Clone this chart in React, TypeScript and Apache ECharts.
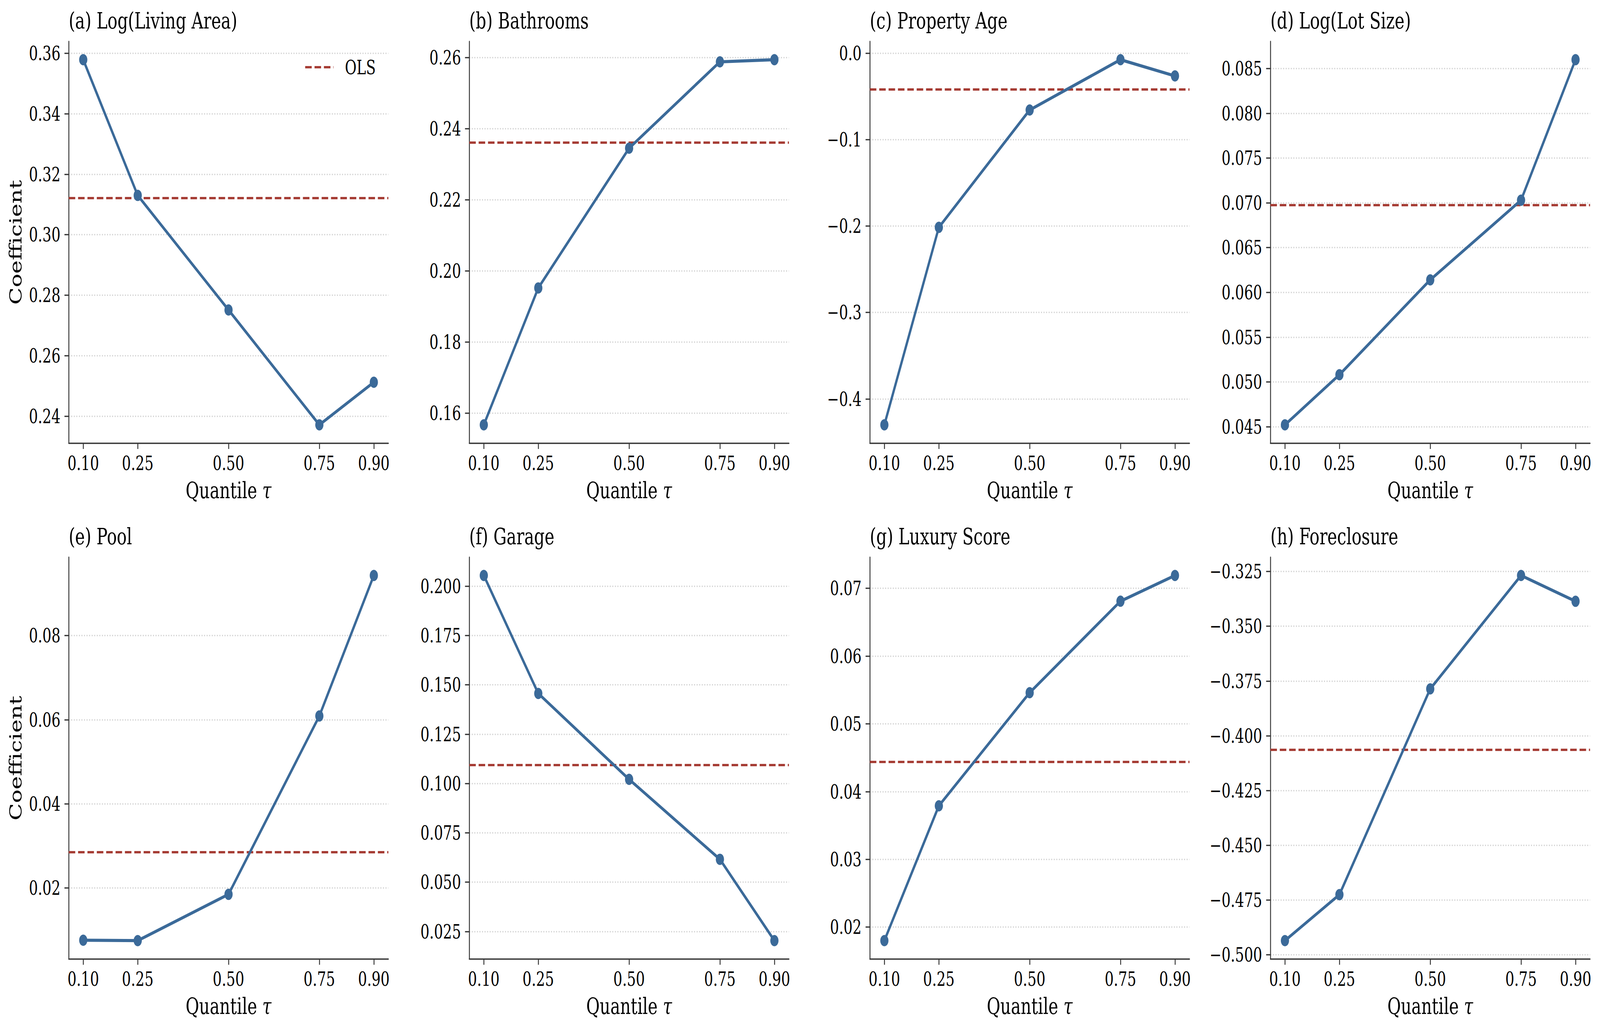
import React, { useEffect, useRef } from "react";
import * as echarts from "echarts";

// ---------- data ----------
const quantiles = [0.1, 0.25, 0.5, 0.75, 0.9];
const xTickLabels = ["0.10", "0.25", "0.50", "0.75", "0.90"];

const panelTitles = [
  "(a) Log(Living Area)",
  "(b) Bathrooms",
  "(c) Property Age",
  "(d) Log(Lot Size)",
  "(e) Pool",
  "(f) Garage",
  "(g) Luxury Score",
  "(h) Foreclosure",
];

const coefLivingArea = [0.3579, 0.313, 0.2751, 0.2371, 0.2512];
const coefBathrooms = [0.1567, 0.1952, 0.2345, 0.2588, 0.2594];
const coefPropertyAge = [-0.43, -0.2015, -0.0657, -0.0075, -0.0263];
const coefLotSize = [0.0452, 0.0508, 0.0614, 0.0703, 0.086];
const coefPool = [0.0076, 0.0075, 0.0185, 0.0609, 0.0943];
const coefGarage = [0.2054, 0.1456, 0.1021, 0.0616, 0.0204];
const coefLuxury = [0.018, 0.0379, 0.0546, 0.0681, 0.0719];
const coefForeclosure = [-0.4936, -0.4726, -0.3786, -0.3268, -0.3386];

const olsValues = [0.3121, 0.2361, -0.0417, 0.06975, 0.02855, 0.1094, 0.04436, -0.4064];

const yTicksA = ["0.24", "0.26", "0.28", "0.30", "0.32", "0.34", "0.36"];
const yTicksB = ["0.16", "0.18", "0.20", "0.22", "0.24", "0.26"];
const yTicksC = ["\u22120.4", "\u22120.3", "\u22120.2", "\u22120.1", "0.0"];
const yTicksD = ["0.045", "0.050", "0.055", "0.060", "0.065", "0.070", "0.075", "0.080", "0.085"];
const yTicksE = ["0.02", "0.04", "0.06", "0.08"];
const yTicksF = ["0.025", "0.050", "0.075", "0.100", "0.125", "0.150", "0.175", "0.200"];
const yTicksG = ["0.02", "0.03", "0.04", "0.05", "0.06", "0.07"];
const yTicksH = ["\u22120.500", "\u22120.475", "\u22120.450", "\u22120.425", "\u22120.400", "\u22120.375", "\u22120.350", "\u22120.325"];

const panelValues = [
  coefLivingArea,
  coefBathrooms,
  coefPropertyAge,
  coefLotSize,
  coefPool,
  coefGarage,
  coefLuxury,
  coefForeclosure,
];
const panelYTicks = [yTicksA, yTicksB, yTicksC, yTicksD, yTicksE, yTicksF, yTicksG, yTicksH];

// ---------- style / layout (reference pixels) ----------
const REF_W = 5636;
const REF_H = 2636;
const FONT = "DejaVu Serif";
const BLUE = "#3B6A99";
const RED = "#A63D35";
const SPINE = "#383838";
const GRID_LEFTS = [242, 1653, 3064, 4475];
const GRID_TOPS = [106, 1426];
const GRID_W = 1126;
const GRID_H = 1028;

const toNum = (s: string) => parseFloat(s.replace("\u2212", "-"));

export default function App() {
  const ref = useRef<HTMLDivElement>(null);

  useEffect(() => {
    const el = ref.current;
    if (!el) return;

    // fit the 5636x2636 drawing into whatever viewport the page really has
    const vw = document.documentElement.clientWidth || window.innerWidth || REF_W;
    const vh = document.documentElement.clientHeight || window.innerHeight || REF_H;
    const sx = vw / REF_W;
    const sy = vh / REF_H;
    if (Math.abs(sx - 1) > 0.002 || Math.abs(sy - 1) > 0.002) {
      el.style.transform = `scale(${sx}, ${sy})`;
    }

    const chart = echarts.init(el, null, { renderer: "svg" });

    const grids: any[] = [];
    const xAxes: any[] = [];
    const yAxes: any[] = [];
    const series: any[] = [];
    const titles: any[] = [];

    const xTickValues = xTickLabels.map(toNum);
    const xMin = Math.min(...quantiles);
    const xMax = Math.max(...quantiles);
    const xPad = (xMax - xMin) * 0.05;

    const dash = [23, 10];

    panelValues.forEach((vals, i) => {
      const col = i % 4;
      const row = Math.floor(i / 4);
      const left = GRID_LEFTS[col];
      const top = GRID_TOPS[row];
      const ols = olsValues[i];
      const lo = Math.min(...vals, ols);
      const hi = Math.max(...vals, ols);
      const pad = (hi - lo) * 0.05;
      const yLabels = panelYTicks[i];
      const yValues = yLabels.map(toNum);

      grids.push({
        left,
        top,
        width: GRID_W,
        height: GRID_H,
        containLabel: false,
        outerBoundsMode: "none",
      });

      titles.push({
        text: panelTitles[i],
        left: left,
        top: top - 82,
        padding: 0,
        textStyle: {
          fontFamily: FONT,
          fontSize: 58,
          fontWeight: "normal",
          color: "#000",
        },
      });

      xAxes.push({
        type: "value",
        gridIndex: i,
        min: xMin - xPad,
        max: xMax + xPad,
        name: "Quantile {t|\u03c4}",
        nameLocation: "middle",
        nameGap: 92,
        nameTextStyle: {
          fontFamily: FONT,
          fontSize: 58,
          color: "#000",
          rich: {
            t: { fontFamily: FONT, fontSize: 58, fontStyle: "italic", color: "#000" },
          },
        },
        axisLine: { show: true, onZero: false, lineStyle: { color: SPINE, width: 3.3 } },
        axisTick: {
          show: true,
          inside: false,
          length: 15,
          lineStyle: { color: SPINE, width: 3.3 },
          customValues: xTickValues,
        },
        axisLabel: {
          show: true,
          margin: 26,
          fontFamily: FONT,
          fontSize: 50,
          color: "#000",
          customValues: xTickValues,
          formatter: (v: number) => {
            const k = xTickValues.findIndex((t) => Math.abs(t - v) < 1e-9);
            return k >= 0 ? xTickLabels[k] : "";
          },
        },
        splitLine: { show: false },
      });

      yAxes.push({
        type: "value",
        gridIndex: i,
        min: lo - pad,
        max: hi + pad,
        name: col === 0 ? "Coefficient" : "",
        nameLocation: "middle",
        nameGap: 158,
        nameTextStyle: { fontFamily: FONT, fontSize: 58, color: "#000" },
        axisLine: { show: true, onZero: false, lineStyle: { color: SPINE, width: 3.3 } },
        axisTick: {
          show: true,
          inside: false,
          length: 15,
          lineStyle: { color: SPINE, width: 3.3 },
          customValues: yValues,
        },
        axisLabel: {
          show: true,
          margin: 29,
          fontFamily: FONT,
          fontSize: 50,
          color: "#000",
          customValues: yValues,
          formatter: (v: number) => {
            const k = yValues.findIndex((t) => Math.abs(t - v) < 1e-9);
            return k >= 0 ? yLabels[k] : "";
          },
        },
        splitLine: {
          show: true,
          lineStyle: { color: "#cfcfcf", width: 3.3, type: [3.3, 5.7] },
        },
      });

      series.push({
        name: "OLS",
        type: "line",
        xAxisIndex: i,
        yAxisIndex: i,
        data: [],
        symbol: "none",
        color: RED,
        lineStyle: { color: RED, width: 6, type: dash },
        z: 2,
        markLine: {
          silent: true,
          precision: 10,
          symbol: ["none", "none"],
          label: { show: false },
          lineStyle: { color: RED, width: 6, type: dash },
          data: [{ yAxis: ols }],
        },
      });

      series.push({
        name: panelTitles[i],
        type: "line",
        xAxisIndex: i,
        yAxisIndex: i,
        data: quantiles.map((q, k) => [q, vals[k]]),
        symbol: "circle",
        symbolSize: 29,
        color: BLUE,
        itemStyle: { color: BLUE },
        lineStyle: { color: BLUE, width: 8 },
        z: 5,
      });
    });

    chart.setOption({
      animation: false,
      backgroundColor: "#ffffff",
      title: titles,
      grid: grids,
      xAxis: xAxes,
      yAxis: yAxes,
      legend: {
        data: ["OLS"],
        left: 1075,
        top: 147,
        padding: 0,
        itemWidth: 100,
        itemHeight: 6,
        selectedMode: false,
        icon: "path://M0,0h23v6h-23z M33,0h23v6h-23z M66,0h23v6h-23z M99,0h1v6h-1z",
        itemStyle: { color: RED },
        textStyle: {
          fontFamily: FONT,
          fontSize: 50,
          color: "#000",
          padding: [0, 0, 0, 35],
        },
      },
      series,
    });

    return () => {
      chart.dispose();
    };
  }, []);

  return (
    <div
      ref={ref}
      style={{
        position: "fixed",
        left: 0,
        top: 0,
        width: REF_W,
        height: REF_H,
        transformOrigin: "0 0",
        background: "#ffffff",
      }}
    />
  );
}
